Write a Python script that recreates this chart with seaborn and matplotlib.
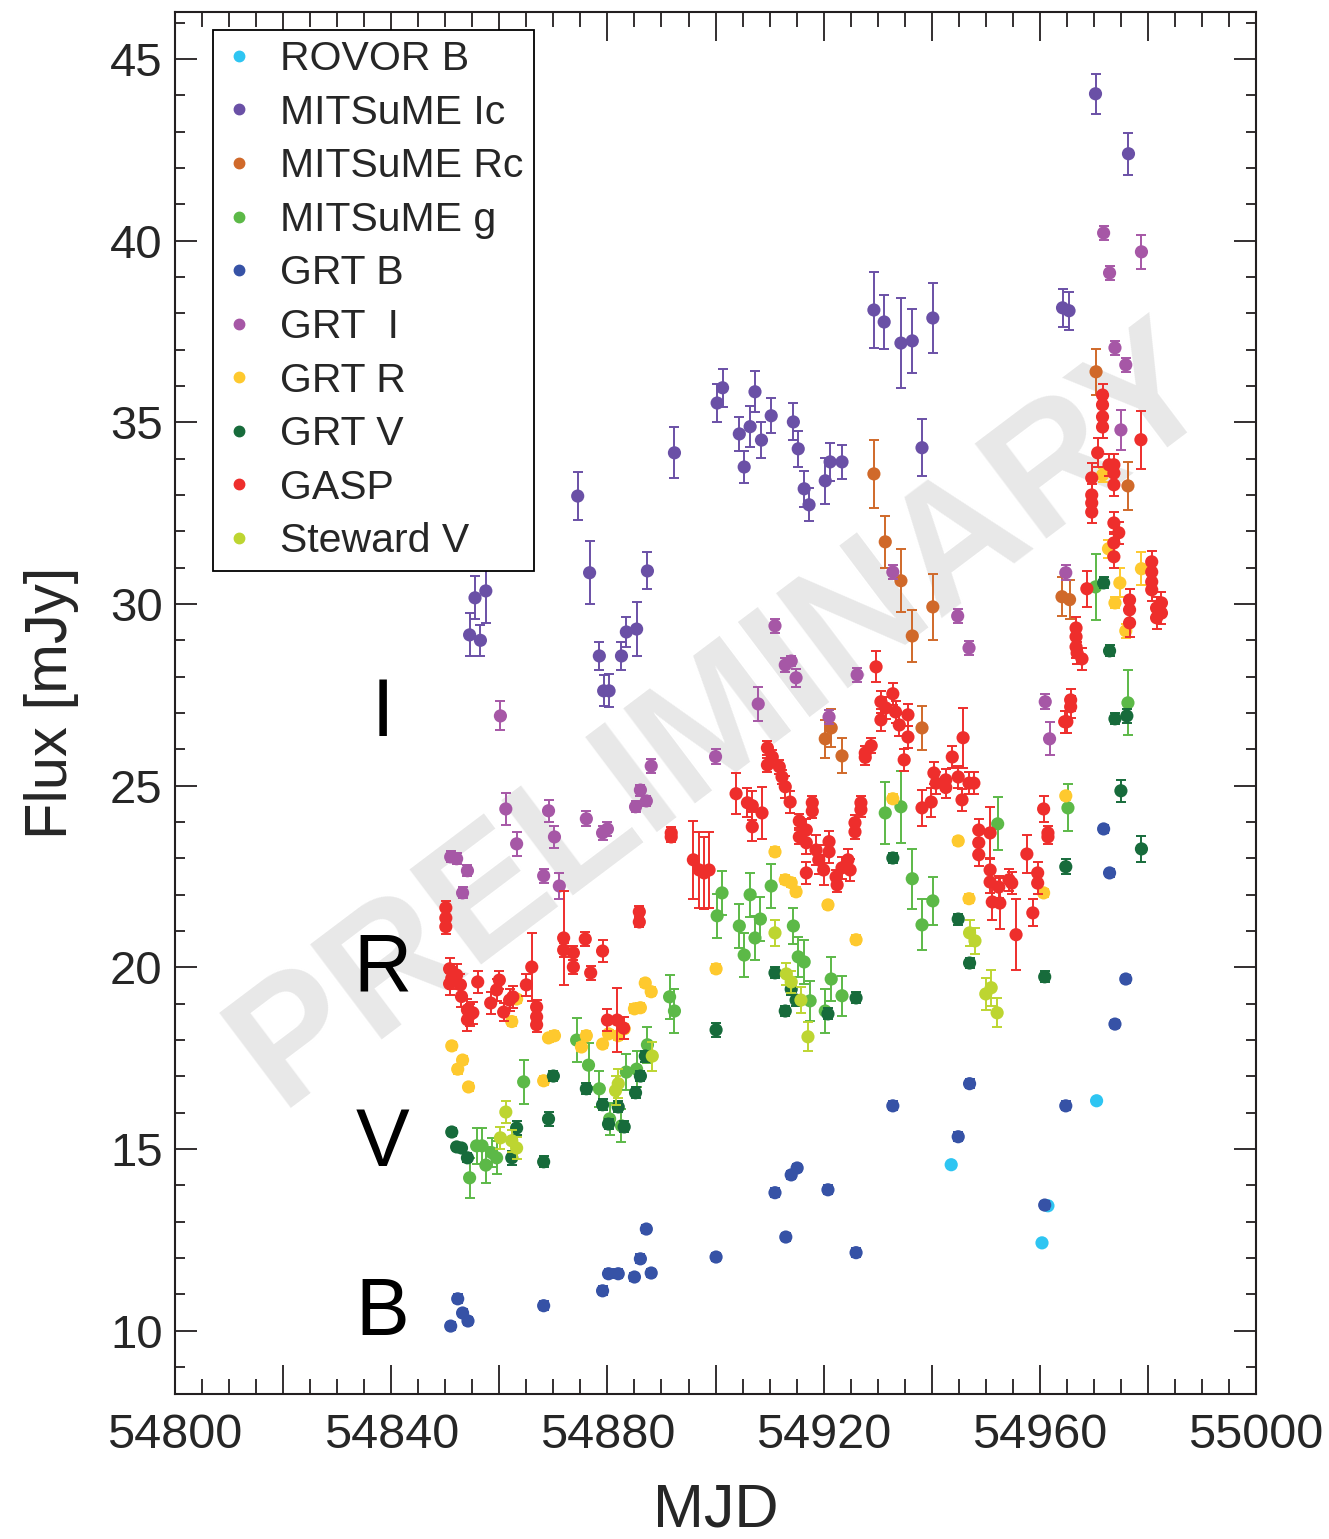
import matplotlib
matplotlib.use("Agg")
import matplotlib.pyplot as plt
from matplotlib.lines import Line2D
from matplotlib.ticker import FixedLocator, MultipleLocator, FuncFormatter
import seaborn as sns
import pandas as pd
import numpy as np

# ---------------- data ----------------
series_names = ["ROVOR B", "MITSuME Ic", "MITSuME Rc", "MITSuME g", "GRT B",
                "GRT  I", "GRT R", "GRT V", "GASP", "Steward V"]
series_colors = ["#2ec5f2", "#6a50a6", "#d0692a", "#5cb947", "#3652a6",
                 "#a657a6", "#fec92e", "#176b3b", "#ee2e2c", "#bdd531"]

rovor_b_mjd = [54943.6, 54960.4, 54961.5, 54970.5]
rovor_b_flux = [14.57, 12.42, 13.44, 16.33]
rovor_b_err = [0.08, 0.08, 0.08, 0.08]

mits_ic_mjd = [54854.5, 54855.5, 54856.5, 54857.5, 54874.5, 54876.7, 54878.5, 54879.3,
               54880.3, 54882.6, 54883.5, 54885.4, 54887.4, 54892.4, 54900.3, 54901.3,
               54904.4, 54905.3, 54906.4, 54907.3, 54908.5, 54910.3, 54914.4, 54915.3,
               54916.4, 54917.3, 54920.3, 54921.2, 54923.4, 54929.3, 54931.2, 54934.3,
               54936.4, 54938.2, 54940.2, 54964.2, 54965.4, 54970.3, 54976.4]
mits_ic_flux = [29.15, 30.17, 29.00, 30.36, 32.97, 30.86, 28.57, 27.61,
                27.61, 28.57, 29.23, 29.31, 30.91, 34.16, 35.53, 35.95,
                34.68, 33.77, 34.88, 35.84, 34.51, 35.18, 35.01, 34.27,
                33.17, 32.73, 33.39, 33.91, 33.91, 38.09, 37.76, 37.18,
                37.24, 34.30, 37.87, 38.15, 38.07, 44.04, 42.39]
mits_ic_err = [0.59, 0.59, 0.42, 0.88, 0.65, 0.87, 0.39, 0.43,
               0.45, 0.39, 0.41, 0.74, 0.51, 0.70, 0.52, 0.52,
               0.47, 0.45, 0.57, 0.56, 0.50, 0.48, 0.51, 0.50,
               0.50, 0.46, 0.64, 0.53, 0.47, 1.05, 0.75, 1.25,
               0.87, 0.78, 0.96, 0.52, 0.52, 0.55, 0.58]

mits_rc_mjd = [54920.3, 54921.4, 54923.4, 54929.3, 54931.4, 54934.3, 54936.4,
               54938.2, 54940.2, 54964.1, 54965.5, 54970.4, 54976.3]
mits_rc_flux = [26.29, 26.59, 25.82, 33.58, 31.71, 30.64, 29.12,
                26.59, 29.92, 30.20, 30.12, 36.39, 33.25]
mits_rc_err = [0.53, 0.53, 0.48, 0.94, 0.72, 0.86, 0.71,
               0.60, 0.90, 0.54, 0.53, 0.63, 0.65]

mits_g_mjd = [54854.5, 54855.8, 54856.8, 54857.5, 54858.6, 54859.5, 54864.5, 54874.3,
              54876.5, 54878.5, 54880.4, 54882.6, 54883.5, 54885.4, 54887.4, 54891.5,
              54892.4, 54900.3, 54901.2, 54904.4, 54905.3, 54906.4, 54907.3, 54908.3,
              54910.3, 54914.4, 54915.3, 54916.4, 54917.5, 54920.3, 54921.4, 54923.4,
              54931.4, 54934.3, 54936.4, 54938.2, 54940.2, 54952.2, 54965.2, 54970.3,
              54976.3]
mits_g_flux = [14.21, 15.09, 15.09, 14.56, 14.90, 14.76, 16.85, 18.00,
               17.31, 16.66, 15.83, 15.64, 17.12, 17.20, 17.87, 19.19,
               18.80, 21.42, 22.05, 21.14, 20.34, 22.00, 20.81, 21.33,
               22.24, 21.14, 20.29, 20.15, 19.08, 18.80, 19.68, 19.22,
               24.25, 24.42, 22.44, 21.17, 21.83, 23.95, 24.39, 30.47,
               27.28]
mits_g_err = [0.55, 0.49, 0.50, 0.50, 0.40, 0.45, 0.60, 0.60,
              0.60, 0.50, 0.45, 0.45, 0.50, 0.50, 0.50, 0.60,
              0.60, 0.60, 0.60, 0.60, 0.60, 0.60, 0.60, 0.60,
              0.60, 0.50, 0.55, 0.60, 0.55, 0.60, 0.60, 0.55,
              0.85, 0.99, 0.83, 0.70, 0.65, 0.73, 0.65, 0.91,
              0.89]

grt_b_mjd = [54851.0, 54852.3, 54853.2, 54854.2, 54868.2, 54879.1, 54880.2, 54882.0,
             54885.0, 54886.1, 54887.2, 54888.1, 54900.1, 54911.0, 54913.0, 54914.0,
             54915.1, 54920.8, 54926.0, 54932.8, 54944.9, 54947.0, 54960.9, 54964.8,
             54971.8, 54972.9, 54973.9, 54975.9]
grt_b_flux = [10.13, 10.88, 10.49, 10.27, 10.69, 11.10, 11.57, 11.57,
              11.48, 11.98, 12.80, 11.59, 12.03, 13.80, 12.58, 14.29,
              14.48, 13.88, 12.15, 16.19, 15.34, 16.80, 13.46, 16.19,
              23.81, 22.60, 18.44, 19.68]
grt_b_err = [0.12] * 28

grt_i_mjd = [54851.0, 54852.1, 54853.2, 54854.1, 54860.2, 54861.2, 54863.2, 54868.2,
             54869.1, 54870.2, 54871.1, 54876.1, 54879.1, 54880.0, 54885.2, 54886.1,
             54887.2, 54888.1, 54900.0, 54907.9, 54911.0, 54912.9, 54914.0, 54914.9,
             54921.0, 54926.2, 54932.8, 54944.8, 54946.9, 54961.0, 54961.8, 54964.8,
             54971.8, 54972.9, 54973.9, 54975.0, 54975.9, 54978.8]
grt_i_flux = [23.04, 22.99, 22.05, 22.66, 26.92, 24.36, 23.40, 22.52,
              24.31, 23.59, 22.24, 24.09, 23.70, 23.81, 24.42, 24.88,
              24.58, 25.54, 25.80, 27.25, 29.40, 28.32, 28.43, 27.97,
              26.89, 28.05, 30.88, 29.67, 28.79, 27.31, 26.29, 30.86,
              40.21, 39.11, 37.05, 34.79, 36.58, 39.69]
grt_i_err = [0.15, 0.15, 0.15, 0.15, 0.40, 0.45, 0.33, 0.20,
             0.30, 0.30, 0.37, 0.20, 0.20, 0.20, 0.15, 0.15,
             0.15, 0.20, 0.20, 0.47, 0.20, 0.20, 0.15, 0.25,
             0.20, 0.20, 0.20, 0.20, 0.20, 0.20, 0.45, 0.20,
             0.20, 0.20, 0.20, 0.55, 0.20, 0.46]

grt_r_mjd = [54851.2, 54852.3, 54853.2, 54854.3, 54862.3, 54863.2, 54868.2, 54869.1,
             54870.2, 54875.2, 54876.1, 54879.1, 54880.2, 54882.0, 54883.1, 54885.0,
             54886.1, 54887.0, 54888.1, 54900.1, 54911.0, 54912.9, 54914.0, 54914.9,
             54920.8, 54926.0, 54932.8, 54944.9, 54946.9, 54960.7, 54964.8, 54971.6,
             54972.7, 54973.9, 54974.8, 54975.9, 54978.8]
grt_r_flux = [17.84, 17.20, 17.45, 16.71, 18.51, 19.13, 16.88, 18.06,
              18.12, 17.81, 18.12, 17.89, 18.17, 18.12, 18.31, 18.86,
              18.89, 19.57, 19.33, 19.96, 23.18, 22.41, 22.33, 22.08,
              21.72, 20.76, 24.64, 23.48, 21.89, 22.05, 24.72, 33.55,
              31.52, 30.03, 30.58, 29.26, 30.97]
grt_r_err = [0.12] * 31 + [0.2, 0.25, 0.15, 0.40, 0.20, 0.45]

grt_v_mjd = [54851.2, 54852.1, 54853.0, 54854.1, 54862.3, 54863.2, 54868.2, 54869.1,
             54870.0, 54876.1, 54879.1, 54880.2, 54882.0, 54883.1, 54885.2, 54886.1,
             54887.0, 54900.1, 54911.0, 54912.9, 54914.0, 54914.9, 54920.8, 54926.0,
             54932.8, 54944.9, 54947.0, 54960.9, 54964.8, 54971.8, 54972.9, 54973.9,
             54975.0, 54976.1, 54978.8]
grt_v_flux = [15.47, 15.06, 15.03, 14.76, 14.76, 15.58, 14.65, 15.83,
              17.01, 16.66, 16.22, 15.69, 16.16, 15.61, 16.55, 17.01,
              17.56, 18.28, 19.85, 18.80, 19.40, 19.10, 18.72, 19.16,
              23.01, 21.33, 20.12, 19.74, 22.77, 30.58, 28.71, 26.84,
              24.86, 26.92, 23.26]
grt_v_err = [0.12] * 4 + [0.2, 0.2, 0.15, 0.2, 0.15, 0.15, 0.15, 0.15, 0.15, 0.15, 0.15, 0.15,
             0.15, 0.2, 0.15, 0.15, 0.15, 0.15, 0.15, 0.15, 0.15, 0.15, 0.15, 0.15, 0.2,
             0.15, 0.15, 0.15, 0.3, 0.2, 0.35]

gasp_mjd = [54850.1, 54850.1, 54850.1, 54850.8, 54850.8, 54851.2, 54852.1, 54852.8,
            54853.0, 54854.1, 54854.1, 54854.6, 54855.1, 54856.0, 54858.4, 54859.5,
            54860.0, 54860.8, 54861.9, 54862.5, 54865.0, 54866.0, 54866.9, 54866.9,
            54866.9, 54871.9, 54871.9, 54873.7, 54873.7, 54875.9, 54876.9, 54879.1,
            54880.0, 54881.8, 54883.0, 54885.9, 54885.9, 54891.8, 54891.8, 54895.9,
            54897.0, 54897.9, 54898.8, 54903.8, 54905.9, 54906.8, 54906.8, 54908.6,
            54909.6, 54909.6, 54910.5, 54911.8, 54912.3, 54912.9, 54913.8, 54915.5,
            54915.5, 54916.8, 54916.8, 54916.8, 54917.9, 54917.9, 54918.6, 54919.1,
            54920.0, 54921.0, 54921.0, 54922.3, 54922.5, 54923.4, 54924.5, 54924.9,
            54925.8, 54925.8, 54926.9, 54926.9, 54927.7, 54927.7, 54928.8, 54929.7,
            54930.6, 54930.6, 54931.5, 54932.8, 54933.3, 54934.0, 54934.9, 54935.6,
            54935.6, 54938.2, 54939.9, 54940.4, 54940.8, 54942.6, 54942.6, 54943.8,
            54944.9, 54945.8, 54945.6, 54946.9, 54947.8, 54948.7, 54948.7, 54948.7,
            54950.8, 54950.8, 54950.8, 54951.2, 54952.4, 54952.6, 54954.3, 54954.8,
            54955.6, 54957.6, 54958.7, 54959.6, 54959.6, 54960.7, 54961.5, 54961.5,
            54964.6, 54965.0, 54965.7, 54965.7, 54966.7, 54966.7, 54966.7, 54966.9,
            54967.8, 54968.7, 54969.6, 54969.6, 54969.6, 54969.6, 54970.7, 54971.6,
            54971.6, 54971.6, 54971.6, 54972.8, 54973.7, 54973.7, 54973.7, 54973.7,
            54974.6, 54973.7, 54973.7, 54976.6, 54976.6, 54976.6, 54978.7, 54980.7,
            54980.7, 54980.7, 54980.7, 54981.6, 54982.5, 54981.6, 54982.5]
gasp_flux = [21.64, 21.36, 21.12, 19.96, 19.55, 19.70, 19.79, 19.52,
             19.20, 18.83, 18.56, 18.70, 18.75, 19.60, 19.02, 19.38,
             19.65, 18.77, 19.10, 19.19, 19.52, 20.01, 18.91, 18.64,
             18.42, 20.81, 20.48, 20.40, 20.01, 20.78, 19.85, 20.45,
             18.55, 18.55, 18.33, 21.53, 21.25, 23.70, 23.59, 22.96,
             22.68, 22.60, 22.68, 24.78, 24.53, 24.45, 23.87, 24.25,
             26.04, 25.57, 25.79, 25.52, 25.24, 24.97, 24.55, 24.03,
             23.59, 23.78, 23.43, 22.60, 24.53, 24.30, 23.23, 22.96,
             22.68, 23.46, 23.18, 22.49, 22.27, 22.74, 22.96, 22.68,
             23.98, 23.73, 24.53, 24.34, 25.90, 25.78, 26.10, 28.27,
             27.31, 26.81, 27.14, 27.53, 27.03, 26.67, 25.71, 26.95,
             26.34, 24.39, 24.55, 25.35, 25.07, 25.16, 24.95, 25.79,
             25.24, 26.32, 24.61, 25.07, 25.07, 23.78, 23.43, 23.10,
             23.70, 22.68, 22.35, 21.80, 22.21, 21.77, 22.41, 22.32,
             20.90, 23.12, 21.50, 22.60, 22.32, 24.36, 23.70, 23.59,
             26.76, 26.76, 27.36, 27.17, 29.34, 29.10, 28.82, 28.65,
             28.49, 30.42, 33.00, 32.78, 32.53, 33.47, 34.16, 35.75,
             35.48, 35.15, 34.87, 33.83, 33.83, 33.60, 33.28, 32.23,
             31.96, 31.68, 31.30, 30.11, 29.84, 29.48, 34.52, 31.16,
             30.88, 30.61, 30.39, 29.89, 30.03, 29.62, 29.75]
gasp_err = [0.20, 0.20, 0.20, 0.30, 0.30, 0.30, 0.30, 0.30,
            0.30, 0.30, 0.30, 0.30, 0.30, 0.30, 0.30, 0.30,
            0.25, 0.25, 0.30, 0.30, 0.30, 0.94, 0.20, 0.20,
            0.20, 1.30, 0.20, 0.20, 0.20, 0.20, 0.20, 0.30,
            0.30, 0.87, 0.30, 0.15, 0.15, 0.15, 0.15, 1.08,
            1.05, 1.00, 1.05, 0.57, 0.40, 0.40, 0.40, 0.71,
            0.20, 0.20, 0.20, 0.20, 0.20, 0.30, 0.30, 0.20,
            0.20, 0.30, 0.30, 0.30, 0.20, 0.20, 0.40, 0.40,
            0.40, 0.30, 0.30, 0.20, 0.20, 0.30, 0.30, 0.30,
            0.20, 0.20, 0.20, 0.20, 0.20, 0.20, 0.20, 0.43,
            0.30, 0.30, 0.30, 0.30, 0.30, 0.30, 0.30, 0.30,
            0.30, 0.50, 0.40, 0.30, 0.30, 0.30, 0.30, 0.30,
            0.30, 0.83, 0.30, 0.30, 0.30, 0.30, 0.30, 0.30,
            0.70, 0.30, 0.30, 0.50, 0.30, 0.70, 0.30, 0.30,
            0.97, 0.53, 0.37, 0.30, 0.30, 0.37, 0.20, 0.20,
            0.30, 0.30, 0.30, 0.30, 0.30, 0.30, 0.30, 0.30,
            0.30, 0.50, 0.30, 0.30, 0.30, 0.40, 0.40, 0.30,
            0.30, 0.30, 0.30, 0.30, 0.30, 0.30, 0.30, 0.30,
            0.30, 0.30, 0.30, 0.30, 0.30, 0.40, 0.80, 0.30,
            0.30, 0.30, 0.30, 0.30, 0.30, 0.30, 0.30]

steward_v_mjd = [54860.2, 54861.2, 54862.3, 54863.2, 54881.5, 54882.0, 54888.3, 54911.0,
                 54913.1, 54914.0, 54915.8, 54917.1, 54947.0, 54948.0, 54950.0, 54951.0,
                 54952.1]
steward_v_flux = [15.31, 16.02, 15.23, 15.03, 16.61, 16.80, 17.56, 20.95,
                  19.82, 19.60, 19.10, 18.09, 20.95, 20.73, 19.27, 19.44,
                  18.75]
steward_v_err = [0.30, 0.30, 0.30, 0.30, 0.40, 0.40, 0.40, 0.35,
                 0.30, 0.30, 0.35, 0.40, 0.35, 0.35, 0.45, 0.50,
                 0.40]

band_labels = ["I", "R", "V", "B"]
band_label_flux = [26.95, 19.93, 15.12, 10.45]
band_label_mjd = 54838.4

x_major_ticks = list(range(54800, 55001, 20))
x_labeled_step = 40

# ---------------- assemble ----------------
all_mjd = [rovor_b_mjd, mits_ic_mjd, mits_rc_mjd, mits_g_mjd, grt_b_mjd,
           grt_i_mjd, grt_r_mjd, grt_v_mjd, gasp_mjd, steward_v_mjd]
all_flux = [rovor_b_flux, mits_ic_flux, mits_rc_flux, mits_g_flux, grt_b_flux,
            grt_i_flux, grt_r_flux, grt_v_flux, gasp_flux, steward_v_flux]
all_err = [rovor_b_err, mits_ic_err, mits_rc_err, mits_g_err, grt_b_err,
           grt_i_err, grt_r_err, grt_v_err, gasp_err, steward_v_err]

frames = []
for name, m, f, e in zip(series_names, all_mjd, all_flux, all_err):
    frames.append(pd.DataFrame({"MJD": m, "Flux": f, "err": e, "series": name}))
df = pd.concat(frames, ignore_index=True)

# ---------------- style ----------------
sns.set_style("ticks")
plt.rcParams["font.family"] = ["Liberation Sans", "DejaVu Sans"]
plt.rcParams["axes.linewidth"] = 1.5

fig = plt.figure(figsize=(13.29, 15.39), dpi=100)
ax = fig.add_axes([0.1317, 0.0942, 0.8134, 0.898])

# watermark
ax.text(54901.5, 26.9, "PRELIMINARY", rotation=37, rotation_mode="anchor",
        ha="center", va="center", fontsize=124, fontweight="bold",
        color="#e8e8e8", zorder=0.5)

for i, (name, col) in enumerate(zip(series_names, series_colors)):
    sub = df[df["series"] == name]
    ax.errorbar(sub["MJD"], sub["Flux"], yerr=sub["err"], fmt="none",
                ecolor=col, elinewidth=1.4, capsize=3.4, capthick=1.4,
                zorder=2 + i * 0.1)
    sns.scatterplot(data=sub, x="MJD", y="Flux", color=col, s=90,
                    linewidth=0, edgecolor="none", ax=ax, legend=False,
                    zorder=2.05 + i * 0.1)

for lab, yv in zip(band_labels, band_label_flux):
    ax.text(band_label_mjd, yv, lab, ha="center", va="center", fontsize=58,
            color="black", zorder=5)

ax.set_xlim(54800, 55000)
ax.set_ylim(8.26, 46.29)

ax.xaxis.set_major_locator(FixedLocator(x_major_ticks))
ax.xaxis.set_major_formatter(FuncFormatter(
    lambda v, p: f"{int(round(v))}" if int(round(v - 54800)) % x_labeled_step == 0 else ""))
ax.xaxis.set_minor_locator(MultipleLocator(5))
ax.yaxis.set_major_locator(MultipleLocator(5))
ax.yaxis.set_minor_locator(MultipleLocator(1))

ax.tick_params(which="both", direction="in", top=True, right=True, width=1.3,
               color="#231f20")
ax.tick_params(axis="x", which="major", length=21, labelsize=35, pad=14)
ax.tick_params(axis="x", which="minor", length=10.5)
ax.tick_params(axis="y", which="major", length=16, labelsize=34, pad=9)
ax.tick_params(axis="y", which="minor", length=7.5)

ax.set_xlabel("MJD", fontsize=44, labelpad=17)
ax.set_ylabel("Flux [mJy]", fontsize=43, labelpad=22)
for sp in ax.spines.values():
    sp.set_color("#231f20")

handles = [Line2D([], [], marker="o", ls="", color=c, markersize=7.5)
           for c in series_colors]
leg = ax.legend(handles, series_names, loc="upper left",
                bbox_to_anchor=(0.035, 0.987), borderaxespad=0, fontsize=29.5,
                frameon=True, fancybox=False, framealpha=1, edgecolor="black",
                handlelength=0.8, handletextpad=0.6, labelspacing=0.38,
                borderpad=0.25)
leg.get_frame().set_linewidth(1.3)
leg.set_zorder(6)

fig.savefig("out.png", dpi=100)
